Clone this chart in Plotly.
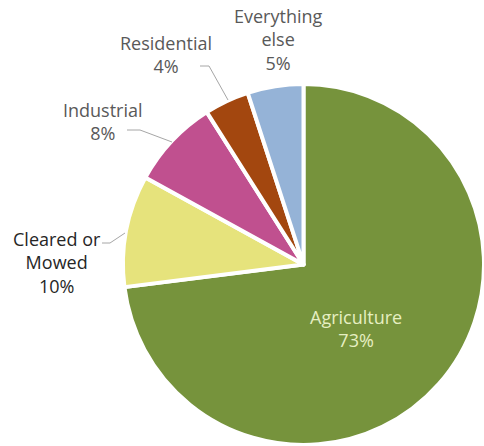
import plotly.graph_objects as go

# Land use shares (percent), clockwise from 12 o'clock
labels = ["Agriculture", "Cleared or<br>Mowed", "Industrial", "Residential", "Everything<br>else"]
values = [73, 10, 8, 4, 5]
colors = ["#76933C", "#E6E37C", "#C0508F", "#A3470F", "#95B3D7"]

W, H = 484, 446


def px(x):
    return x / W


def py(y):
    return 1 - y / H


fig = go.Figure(
    go.Pie(
        labels=labels,
        values=values,
        sort=False,
        direction="clockwise",
        rotation=0,
        textinfo="none",
        hoverinfo="label+percent",
        marker=dict(colors=colors, line=dict(color="white", width=4)),
        domain=dict(x=[px(123), px(484)], y=[py(445), py(84)]),
        showlegend=False,
    )
)

# Label placement (pixel centres) and text colours
label_pos = [(356, 328), (57, 262), (103, 121), (166, 54), (278, 39)]
label_colors = ["#E6EFC2", "#262626", "#595959", "#595959", "#595959"]

annotations = []
for lab, val, (x, y), c in zip(labels, values, label_pos, label_colors):
    annotations.append(
        dict(
            x=px(x), y=py(y), xref="paper", yref="paper",
            text=f"{lab}<br>{val}%", showarrow=False,
            xanchor="center", yanchor="middle", align="center",
            font=dict(family="Open Sans", size=18, color=c),
        )
    )

# Elbow leader lines from outside labels to their slices
leaders = [
    [(102, 243), (110, 243), (125, 233)],
    [(127, 130), (140, 130), (172, 142)],
    [(200, 66), (209, 66), (228, 100)],
]
shapes = []
for pts in leaders:
    path = "M " + " L ".join(f"{px(a)},{py(b)}" for a, b in pts)
    shapes.append(
        dict(type="path", path=path, xref="paper", yref="paper",
             line=dict(color="#A6A6A6", width=1))
    )

fig.update_layout(
    width=W, height=H,
    margin=dict(l=0, r=0, t=0, b=0),
    paper_bgcolor="white", plot_bgcolor="white",
    annotations=annotations, shapes=shapes,
)

fig.write_html("out.html")
